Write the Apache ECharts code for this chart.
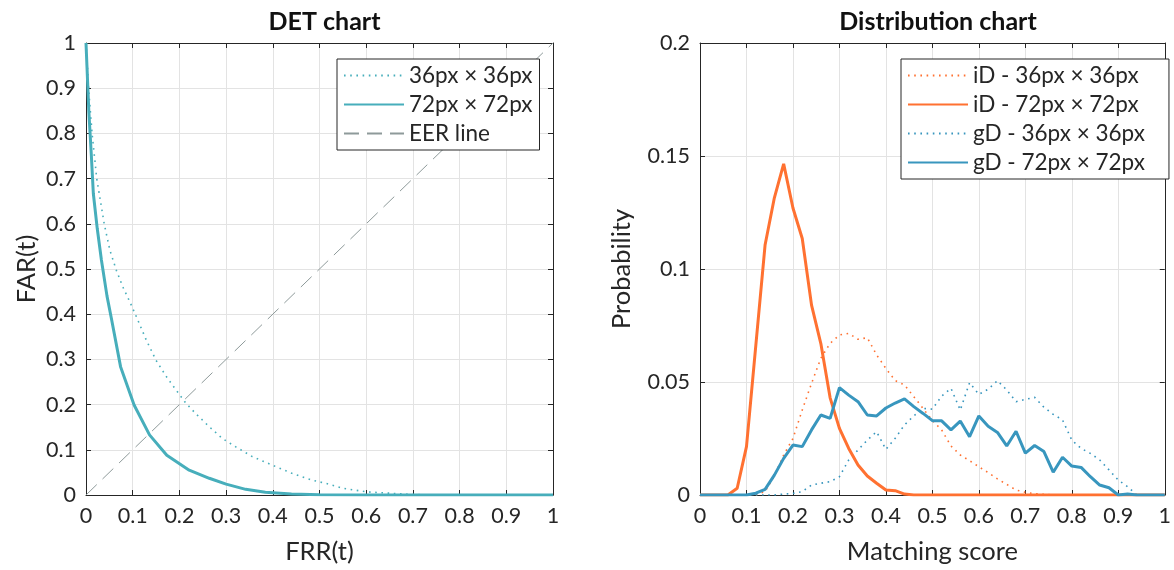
<!DOCTYPE html>
<html>
<head>
<meta charset="utf-8">
<title>DET chart and Distribution chart</title>
<script src="https://cdn.jsdelivr.net/npm/echarts@6/dist/echarts.min.js"></script>
<style>
  html, body { margin: 0; padding: 0; background: #ffffff; }
  #chart { width: 1174px; height: 570px; }
</style>
</head>
<body>
<div id="chart"></div>
<script>
// ---- DET curves: FRR(t) vs FAR(t) ----
const det36Frr = [0, 0.003, 0.0055, 0.013, 0.023, 0.039, 0.051, 0.065, 0.079, 0.094, 0.111, 0.129, 0.15, 0.172, 0.193, 0.214, 0.235, 0.264, 0.292, 0.32, 0.356, 0.399, 0.441, 0.484, 0.52, 0.55, 0.6, 0.65, 0.7, 0.75, 1];
const det36Far = [1, 0.95, 0.9, 0.8, 0.7, 0.6, 0.542, 0.497, 0.46, 0.427, 0.387, 0.343, 0.298, 0.262, 0.232, 0.203, 0.18, 0.151, 0.125, 0.107, 0.085, 0.066, 0.048, 0.033, 0.024, 0.015, 0.007, 0.004, 0.001, 0, 0];
const det72Frr = [0, 0.002, 0.006, 0.0115, 0.0157, 0.024, 0.033, 0.045, 0.055, 0.074, 0.103, 0.136, 0.173, 0.221, 0.264, 0.3, 0.342, 0.384, 0.44, 0.5, 0.6, 1];
const det72Far = [1, 0.95, 0.85, 0.75, 0.667, 0.59, 0.52, 0.44, 0.387, 0.284, 0.199, 0.133, 0.088, 0.055, 0.037, 0.024, 0.0125, 0.006, 0.002, 0.0005, 0, 0];
const eerLine = [0, 1];

// ---- Score distributions ----
const scores = [0, 0.02, 0.04, 0.06, 0.08, 0.10, 0.12, 0.14, 0.16, 0.18, 0.20, 0.22, 0.24, 0.26, 0.28, 0.30, 0.32, 0.34, 0.36, 0.38, 0.40, 0.42, 0.44, 0.46, 0.48, 0.50, 0.52, 0.54, 0.56, 0.58, 0.60, 0.62, 0.64, 0.66, 0.68, 0.70, 0.72, 0.74, 0.76, 0.78, 0.80, 0.82, 0.84, 0.86, 0.88, 0.90, 0.92, 0.94, 0.96, 0.98, 1.00];
const iD36 = [0, 0, 0, 0, 0, 0, 0, 0.0015, 0.0085, 0.0177, 0.025, 0.0376, 0.0494, 0.0605, 0.0671, 0.0708, 0.0715, 0.0689, 0.0696, 0.062, 0.056, 0.0506, 0.0487, 0.0435, 0.0383, 0.0329, 0.0288, 0.0217, 0.0177, 0.0152, 0.0125, 0.0099, 0.0071, 0.0047, 0.0022, 0.0012, 0.0006, 0.0003, 0, 0, 0, 0, 0, 0, 0, 0, 0, 0, 0, 0, 0];
const iD72 = [0, 0, 0, 0, 0.003, 0.0214, 0.066, 0.1106, 0.1315, 0.1465, 0.127, 0.1135, 0.084, 0.067, 0.043, 0.0295, 0.0206, 0.0133, 0.0084, 0.0052, 0.0022, 0.0019, 0.0004, 0, 0, 0, 0, 0, 0, 0, 0, 0, 0, 0, 0, 0, 0, 0, 0, 0, 0, 0, 0, 0, 0, 0, 0, 0, 0, 0, 0];
const gD36 = [0, 0, 0, 0, 0, 0, 0, 0, 0, 0.0004, 0.0007, 0.0015, 0.0044, 0.0052, 0.0059, 0.0081, 0.0155, 0.0199, 0.0243, 0.028, 0.0202, 0.0251, 0.031, 0.035, 0.0383, 0.038, 0.0438, 0.0472, 0.0376, 0.0497, 0.0445, 0.0468, 0.0506, 0.0465, 0.0413, 0.0423, 0.0432, 0.0388, 0.0357, 0.0332, 0.0243, 0.0206, 0.0184, 0.0155, 0.0111, 0.0066, 0.0037, 0, 0, 0, 0];
const gD72 = [0, 0, 0, 0, 0, 0, 0.0008, 0.0025, 0.0088, 0.0162, 0.0221, 0.0214, 0.0288, 0.0354, 0.0339, 0.0475, 0.0442, 0.0413, 0.0354, 0.035, 0.0385, 0.0407, 0.0425, 0.0391, 0.0361, 0.0329, 0.0328, 0.0288, 0.0327, 0.0258, 0.035, 0.0304, 0.0277, 0.0217, 0.0282, 0.0185, 0.0219, 0.0192, 0.0101, 0.0167, 0.0128, 0.0122, 0.0081, 0.0044, 0.0032, 0, 0.0004, 0, 0, 0, 0];

// ---- Axis ticks ----
const unitTicks = [0, 0.1, 0.2, 0.3, 0.4, 0.5, 0.6, 0.7, 0.8, 0.9, 1];
const probTicks = [0, 0.05, 0.1, 0.15, 0.2];

const FONT = 'Lato, "DejaVu Sans", sans-serif';
const INK = '#262626';
const GRIDC = '#e3e3e3';
const TEAL = '#47AEBB';
const ORANGE = '#FF7131';
const BLUE = '#3896BE';
const EERC = '#8E9A9A';
const DOTS = [1.6, 4.6];

function pairs(xs, ys) { return xs.map((x, i) => [x, ys[i]]); }

function mainX(grid, ticks, name) {
  return {
    type: 'value', gridIndex: grid, position: 'bottom',
    min: ticks[0], max: ticks[ticks.length - 1], interval: ticks[1] - ticks[0],
    name: name, nameLocation: 'middle', nameGap: 44,
    nameTextStyle: { fontFamily: FONT, fontSize: 25.5, color: INK },
    axisLine: { show: true, lineStyle: { color: INK, width: 1 } },
    axisTick: { show: true, inside: true, length: 5, lineStyle: { color: INK } },
    axisLabel: { fontFamily: FONT, fontSize: 21.5, color: INK, margin: 10 },
    splitLine: { show: true, lineStyle: { color: GRIDC, width: 1 } }
  };
}
function mainY(grid, ticks, name, gap) {
  return {
    type: 'value', gridIndex: grid, position: 'left',
    min: ticks[0], max: ticks[ticks.length - 1], interval: ticks[1] - ticks[0],
    name: name, nameLocation: 'middle', nameGap: gap, nameRotate: 90,
    nameTextStyle: { fontFamily: FONT, fontSize: 25.5, color: INK },
    axisLine: { show: true, lineStyle: { color: INK, width: 1 } },
    axisTick: { show: true, inside: true, length: 5, lineStyle: { color: INK } },
    axisLabel: { fontFamily: FONT, fontSize: 21.5, color: INK, margin: 10 },
    splitLine: { show: true, lineStyle: { color: GRIDC, width: 1 } }
  };
}
// Mirror axes on top / right close the box and repeat the inner ticks
function mirror(grid, ticks, pos) {
  return {
    type: 'value', gridIndex: grid, position: pos,
    min: ticks[0], max: ticks[ticks.length - 1], interval: ticks[1] - ticks[0],
    axisLine: { show: true, onZero: false, lineStyle: { color: INK, width: 1 } },
    axisTick: { show: true, inside: true, length: 5, lineStyle: { color: INK } },
    axisLabel: { show: false },
    splitLine: { show: false }
  };
}

function legendBox(left, top, names, padding) {
  return {
    show: true, orient: 'vertical', left: left, top: top,
    data: names,
    itemWidth: 60, itemHeight: 14, itemGap: 6,
    padding: padding,
    itemStyle: { opacity: 0 },
    backgroundColor: '#ffffff', borderColor: INK, borderWidth: 1, borderRadius: 0,
    textStyle: { fontFamily: FONT, fontSize: 22.5, color: INK },
    selectedMode: false
  };
}

const chart = echarts.init(document.getElementById('chart'), null, { renderer: 'canvas' });
chart.setOption({
  animation: false,
  backgroundColor: '#ffffff',
  title: [
    { text: 'DET chart', left: 319.5, top: 4, textAlign: 'center',
      textStyle: { fontFamily: FONT, fontSize: 25, fontWeight: 'bold', color: '#111' } },
    { text: 'Distribution chart', left: 933, top: 4, textAlign: 'center',
      textStyle: { fontFamily: FONT, fontSize: 25, fontWeight: 'bold', color: '#111' } }
  ],
  grid: [
    { left: 86, top: 43, width: 467, height: 452, containLabel: false },
    { left: 700, top: 43, width: 466, height: 452, containLabel: false }
  ],
  xAxis: [
    mainX(0, unitTicks, 'FRR(t)'),
    mirror(0, unitTicks, 'top'),
    mainX(1, unitTicks, 'Matching score'),
    mirror(1, unitTicks, 'top')
  ],
  yAxis: [
    mainY(0, unitTicks, 'FAR(t)', 46),
    mirror(0, unitTicks, 'right'),
    mainY(1, probTicks, 'Probability', 65),
    mirror(1, probTicks, 'right')
  ],
  legend: [
    legendBox(337, 59, ['36px × 36px', '72px × 72px', 'EER line'], [5, 7, 5, 6]),
    legendBox(901, 59, ['iD - 36px × 36px', 'iD - 72px × 72px', 'gD - 36px × 36px', 'gD - 72px × 72px'], [5, 24, 5, 6])
  ],
  series: [
    { name: '36px × 36px', type: 'line', xAxisIndex: 0, yAxisIndex: 0, symbol: 'none',
      color: TEAL, lineStyle: { color: TEAL, width: 1.6, type: DOTS },
      data: pairs(det36Frr, det36Far), z: 3 },
    { name: '72px × 72px', type: 'line', xAxisIndex: 0, yAxisIndex: 0, symbol: 'none',
      color: TEAL, lineStyle: { color: TEAL, width: 3 },
      data: pairs(det72Frr, det72Far), z: 4 },
    { name: 'EER line', type: 'line', xAxisIndex: 0, yAxisIndex: 0, symbol: 'none',
      color: EERC, lineStyle: { color: EERC, width: 1, type: [15, 8] },
      data: pairs(eerLine, eerLine), z: 2 },

    { name: 'iD - 36px × 36px', type: 'line', xAxisIndex: 2, yAxisIndex: 2, symbol: 'none',
      color: ORANGE, lineStyle: { color: ORANGE, width: 1.6, type: DOTS },
      data: pairs(scores, iD36), z: 3 },
    { name: 'iD - 72px × 72px', type: 'line', xAxisIndex: 2, yAxisIndex: 2, symbol: 'none',
      color: ORANGE, lineStyle: { color: ORANGE, width: 3 },
      data: pairs(scores, iD72), z: 4 },
    { name: 'gD - 36px × 36px', type: 'line', xAxisIndex: 2, yAxisIndex: 2, symbol: 'none',
      color: BLUE, lineStyle: { color: BLUE, width: 1.6, type: DOTS },
      data: pairs(scores, gD36), z: 3 },
    { name: 'gD - 72px × 72px', type: 'line', xAxisIndex: 2, yAxisIndex: 2, symbol: 'none',
      color: BLUE, lineStyle: { color: BLUE, width: 3 },
      data: pairs(scores, gD72), z: 4 }
  ]
});
</script>
</body>
</html>
